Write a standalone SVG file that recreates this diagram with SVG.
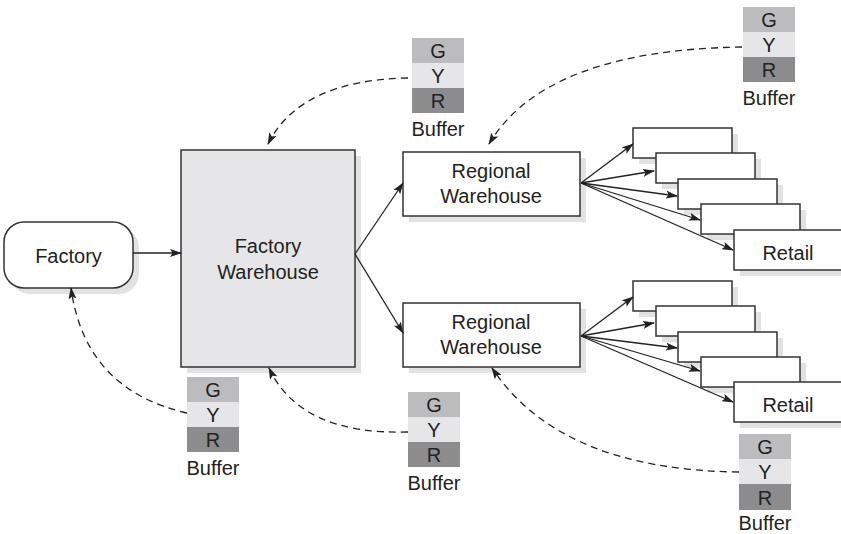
<svg xmlns="http://www.w3.org/2000/svg" width="841" height="534" viewBox="0 0 841 534">
<defs>
<marker id="ah" viewBox="0 0 12 8" refX="11" refY="4" markerWidth="12" markerHeight="8" markerUnits="userSpaceOnUse" orient="auto">
<path d="M0,0 L12,4 L0,8 L2.5,4 z" fill="#222"/>
</marker>
<style>
.box{fill:#fff;stroke:#333;stroke-width:1.5}
.fw{fill:#e6e6e8;stroke:#333;stroke-width:1.5}
.sh{fill:#e2e2e4}
.t{font-family:"Liberation Sans",Arial,sans-serif;font-size:20px;fill:#222;text-anchor:middle}
.ln{fill:none;stroke:#222;stroke-width:1.3}
.dl{fill:none;stroke:#222;stroke-width:1.3;stroke-dasharray:7 5}
.g{fill:#bcbcbf}
.y{fill:#e6e6e8}
.r{fill:#8c8c8f}
</style>
</defs>
<rect width="841" height="534" fill="#fff"/>

<g id="factory">
<rect class="sh" x="10" y="228" width="129" height="66" rx="20"/>
<rect class="box" x="4" y="222" width="129" height="66" rx="20"/>
<text class="t" x="68.5" y="263">Factory</text>
</g>

<g id="factory-warehouse">
<rect class="sh" x="187" y="156" width="174" height="217"/>
<rect class="fw" x="181" y="150" width="174" height="217"/>
<text class="t" x="268" y="253">Factory</text>
<text class="t" x="268" y="279">Warehouse</text>
</g>

<g id="regional-warehouse-1">
<rect class="sh" x="409" y="158" width="177" height="64"/>
<rect class="box" x="403" y="152" width="177" height="64"/>
<text class="t" x="491" y="178">Regional</text>
<text class="t" x="491" y="203">Warehouse</text>
</g>

<g id="regional-warehouse-2">
<rect class="sh" x="409" y="309" width="177" height="64"/>
<rect class="box" x="403" y="303" width="177" height="64"/>
<text class="t" x="491" y="329">Regional</text>
<text class="t" x="491" y="354">Warehouse</text>
</g>

<g id="retail-stack-1">
<rect class="sh" x="639" y="134" width="99" height="30"/>
<rect class="box" x="633" y="128" width="99" height="30"/>
<rect class="sh" x="662" y="159" width="99" height="30"/>
<rect class="box" x="656" y="153" width="99" height="30"/>
<rect class="sh" x="684" y="185" width="99" height="30"/>
<rect class="box" x="678" y="179" width="99" height="30"/>
<rect class="sh" x="707" y="210" width="99" height="30"/>
<rect class="box" x="701" y="204" width="99" height="30"/>
<rect class="sh" x="740" y="236" width="110" height="40"/>
<rect class="box" x="734" y="230" width="110" height="40"/>
<text class="t" x="788" y="260">Retail</text>
</g>

<g id="retail-stack-2">
<rect class="sh" x="639" y="287" width="99" height="30"/>
<rect class="box" x="633" y="281" width="99" height="30"/>
<rect class="sh" x="662" y="312" width="99" height="30"/>
<rect class="box" x="656" y="306" width="99" height="30"/>
<rect class="sh" x="684" y="338" width="99" height="30"/>
<rect class="box" x="678" y="332" width="99" height="30"/>
<rect class="sh" x="707" y="363" width="99" height="30"/>
<rect class="box" x="701" y="357" width="99" height="30"/>
<rect class="sh" x="740" y="388" width="110" height="40"/>
<rect class="box" x="734" y="382" width="110" height="40"/>
<text class="t" x="788" y="412">Retail</text>
</g>

<g id="buffer-top">
<rect class="g" x="412" y="38" width="52" height="25"/>
<rect class="y" x="412" y="63" width="52" height="25"/>
<rect class="r" x="412" y="88" width="52" height="25"/>
<text class="t" x="438" y="58">G</text>
<text class="t" x="438" y="83">Y</text>
<text class="t" x="438" y="108">R</text>
<text class="t" x="438" y="136">Buffer</text>
</g>

<g id="buffer-top-right">
<rect class="g" x="743" y="7" width="52" height="25"/>
<rect class="y" x="743" y="32" width="52" height="25"/>
<rect class="r" x="743" y="57" width="52" height="25"/>
<text class="t" x="769" y="27">G</text>
<text class="t" x="769" y="52">Y</text>
<text class="t" x="769" y="77">R</text>
<text class="t" x="769" y="105">Buffer</text>
</g>

<g id="buffer-bottom-left">
<rect class="g" x="187" y="377" width="52" height="25"/>
<rect class="y" x="187" y="402" width="52" height="25"/>
<rect class="r" x="187" y="427" width="52" height="25"/>
<text class="t" x="213" y="397">G</text>
<text class="t" x="213" y="422">Y</text>
<text class="t" x="213" y="447">R</text>
<text class="t" x="213" y="475">Buffer</text>
</g>

<g id="buffer-bottom-mid">
<rect class="g" x="408" y="392" width="52" height="25"/>
<rect class="y" x="408" y="417" width="52" height="25"/>
<rect class="r" x="408" y="442" width="52" height="25"/>
<text class="t" x="434" y="412">G</text>
<text class="t" x="434" y="437">Y</text>
<text class="t" x="434" y="462">R</text>
<text class="t" x="434" y="490">Buffer</text>
</g>

<g id="buffer-bottom-right">
<rect class="g" x="739" y="434" width="52" height="25"/>
<rect class="y" x="739" y="459" width="52" height="25"/>
<rect class="r" x="739" y="484" width="52" height="26"/>
<text class="t" x="765" y="454">G</text>
<text class="t" x="765" y="479">Y</text>
<text class="t" x="765" y="505">R</text>
<text class="t" x="765" y="530">Buffer</text>
</g>

<g id="connectors">
<path class="ln" d="M133,253 L181,253" marker-end="url(#ah)"/>
<path class="ln" d="M355,254 L403,183" marker-end="url(#ah)"/>
<path class="ln" d="M355,254 L403,333" marker-end="url(#ah)"/>

<path class="ln" d="M581,183 L633,144" marker-end="url(#ah)"/>
<path class="ln" d="M581,183 L654,171" marker-end="url(#ah)"/>
<path class="ln" d="M581,183 L677,196" marker-end="url(#ah)"/>
<path class="ln" d="M581,183 L700,220" marker-end="url(#ah)"/>
<path class="ln" d="M581,183 L733,250" marker-end="url(#ah)"/>

<path class="ln" d="M581,336 L633,297" marker-end="url(#ah)"/>
<path class="ln" d="M581,336 L654,323" marker-end="url(#ah)"/>
<path class="ln" d="M581,336 L677,348" marker-end="url(#ah)"/>
<path class="ln" d="M581,336 L700,371" marker-end="url(#ah)"/>
<path class="ln" d="M581,336 L733,402" marker-end="url(#ah)"/>

<path class="dl" d="M408,78 Q300,80 268,144" marker-end="url(#ah)"/>
<path class="dl" d="M742,47 Q545,50 489,144" marker-end="url(#ah)"/>
<path class="dl" d="M187,413 Q85,390 71,288" marker-end="url(#ah)"/>
<path class="dl" d="M408,432 Q300,435 269,368" marker-end="url(#ah)"/>
<path class="dl" d="M739,472 Q560,470 492,368" marker-end="url(#ah)"/>
</g>
</svg>
